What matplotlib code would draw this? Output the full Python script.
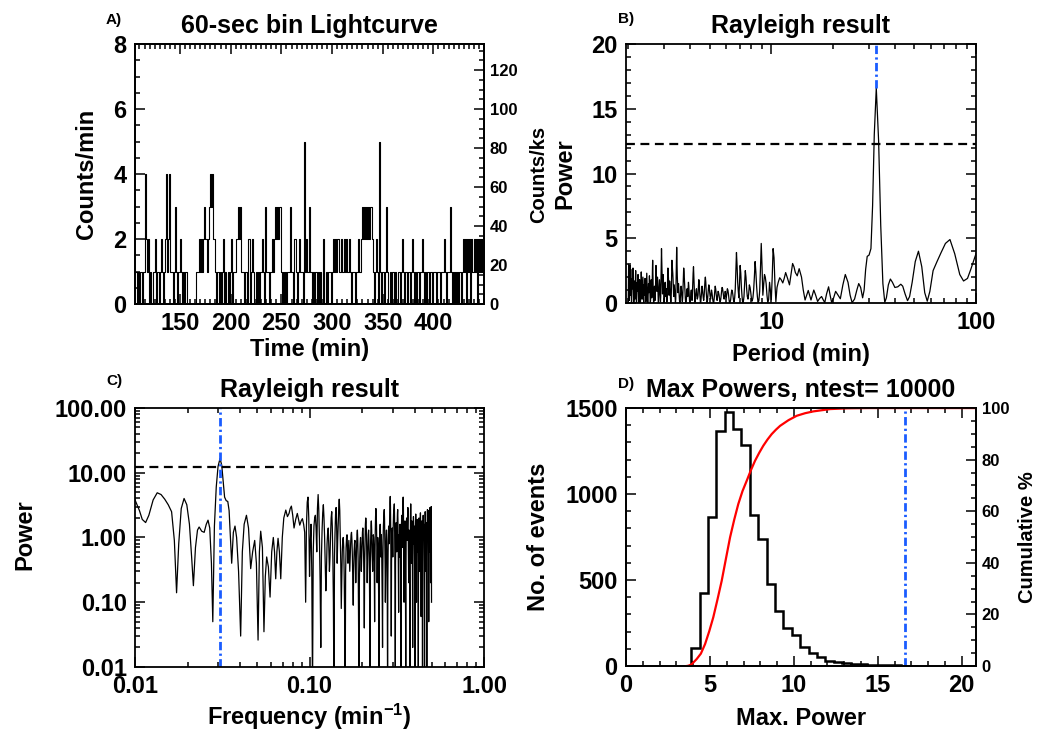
import numpy as np
import matplotlib
matplotlib.use("Agg")
import matplotlib.pyplot as plt
from matplotlib.ticker import MultipleLocator, FixedLocator, LogLocator, NullFormatter

plt.rcParams['font.family'] = ['Liberation Sans', 'DejaVu Sans']
plt.rcParams['font.weight'] = 'bold'
plt.rcParams['axes.labelweight'] = 'bold'
plt.rcParams['axes.titleweight'] = 'bold'
plt.rcParams['mathtext.fontset'] = 'custom'
plt.rcParams['mathtext.rm'] = 'Liberation Sans:bold'
plt.rcParams['mathtext.it'] = 'Liberation Sans:bold'
plt.rcParams['mathtext.bf'] = 'Liberation Sans:bold'
plt.rcParams['axes.linewidth'] = 1.3

# ---- A) 60-sec bin lightcurve (counts per minute, one bin per minute) ----
t_start = 105.6
counts = [
    1, 1, 0, 1, 0, 1, 1, 0, 1, 1,
    4, 2, 1, 2, 0, 1, 0, 0, 1, 1,
    2, 0, 1, 1, 0, 1, 2, 1, 0, 1,
    2, 4, 1, 2, 4, 1, 1, 0, 1, 3,
    1, 0, 1, 1, 2, 1, 0, 1, 0, 1,
    1, 0, 0, 0, 0, 0, 0, 0, 0, 0,
    1, 1, 1, 2, 1, 2, 1, 2, 3, 2,
    2, 1, 2, 3, 4, 3, 4, 2, 2, 1,
    0, 1, 1, 0, 1, 0, 1, 2, 0, 1,
    0, 0, 1, 0, 1, 2, 0, 1, 1, 1,
    2, 2, 3, 2, 3, 1, 1, 1, 0, 1,
    0, 2, 2, 0, 1, 2, 1, 0, 0, 1,
    0, 1, 0, 1, 1, 2, 1, 0, 3, 1,
    1, 1, 0, 1, 1, 2, 1, 2, 3, 2,
    3, 2, 3, 3, 1, 0, 1, 0, 1, 0,
    1, 1, 1, 3, 1, 1, 0, 2, 2, 1,
    0, 1, 2, 1, 1, 1, 0, 5, 1, 2,
    1, 1, 3, 1, 1, 0, 1, 0, 1, 1,
    0, 1, 0, 1, 0, 2, 0, 0, 1, 0,
    1, 1, 1, 0, 1, 2, 1, 2, 1, 2,
    2, 1, 1, 2, 1, 1, 2, 1, 2, 1,
    1, 2, 1, 0, 1, 1, 1, 0, 1, 1,
    2, 1, 1, 2, 3, 2, 3, 2, 3, 2,
    3, 2, 3, 3, 2, 1, 0, 1, 2, 1,
    0, 5, 1, 0, 1, 1, 0, 1, 3, 1,
    0, 0, 1, 0, 1, 1, 0, 1, 0, 1,
    1, 0, 1, 2, 1, 0, 1, 1, 0, 1,
    1, 0, 1, 2, 1, 0, 1, 0, 1, 1,
    0, 1, 1, 2, 1, 0, 1, 0, 1, 1,
    0, 1, 1, 0, 1, 1, 1, 0, 1, 1,
    1, 0, 1, 1, 1, 2, 1, 0, 1, 1,
    1, 3, 1, 0, 1, 0, 1, 0, 1, 0,
    1, 1, 0, 1, 2, 1, 2, 0, 2, 1,
    2, 0, 2, 1, 2, 1, 2, 0, 2, 1,
    2, 1, 2, 1, 2,
]

# ---- B) / C) Rayleigh periodogram ----
freq_lo = [
    0.0100, 0.0106, 0.0110, 0.0115, 0.0120, 0.0127, 0.0134, 0.0141, 0.0148, 0.0155,
    0.0162, 0.0168, 0.0173, 0.0178, 0.0184, 0.0191, 0.0198, 0.0205, 0.0211, 0.0216,
    0.0222, 0.0228, 0.0233, 0.0241, 0.0249, 0.0256, 0.0262, 0.0268, 0.0274, 0.0279,
    0.0285, 0.0292, 0.0299, 0.0307, 0.0314, 0.0320, 0.0326, 0.0333, 0.0340, 0.0346,
    0.0352, 0.0358, 0.0366, 0.0374, 0.0382, 0.0392, 0.0403, 0.0412, 0.0422, 0.0435,
    0.0447, 0.0460, 0.0472, 0.0485, 0.0496, 0.0507, 0.0516, 0.0525, 0.0537, 0.0548,
    0.0558, 0.0568, 0.0581, 0.0594, 0.0607, 0.0620, 0.0630, 0.0640, 0.0650, 0.0660,
    0.0672, 0.0684, 0.0698, 0.0712, 0.0731, 0.0747, 0.0763, 0.0775, 0.0787, 0.0801,
    0.0815, 0.0833, 0.0851, 0.0865, 0.0879, 0.0895, 0.0910, 0.0925, 0.0938, 0.0950,
    0.0960, 0.0970, 0.0980, 0.0990,
]
power_lo = [
    3.8, 2.6, 1.9, 1.7, 2.2, 3.8, 4.9, 4.6, 3.9, 3.2,
    2.5, 0.9, 0.14, 0.8, 2.8, 4.0, 3.2, 1.6, 0.5, 0.18,
    0.7, 1.3, 1.45, 1.25, 1.2, 1.6, 1.85, 1.4, 0.4, 0.05,
    1.5, 6.0, 12.5, 16.6, 13.0, 7.5, 4.2, 3.7, 3.6, 2.6,
    1.0, 0.4, 1.2, 1.5, 1.0, 0.3, 0.03, 0.6, 1.6, 2.2,
    1.4, 0.33, 0.6, 0.9, 0.4, 0.026, 0.6, 1.25, 0.7, 0.035,
    0.25, 0.5, 0.35, 0.12, 0.6, 1.0, 0.6, 0.23, 0.6, 0.97,
    0.6, 0.23, 1.0, 2.0, 2.65, 2.1, 2.35, 2.8, 3.05, 2.2,
    1.4, 1.9, 2.35, 1.9, 1.55, 1.8, 1.95, 1.6, 1.2, 0.1,
    1.5, 3.5, 4.2, 2.0,
]
# high-frequency part: samples at 0.100, 0.102, ... 0.500 min^-1
freq_hi_start, freq_hi_step = 0.100, 0.002
power_hi = [
    0.25, 1.6, 0.004, 1.5, 2.2, 0.6, 4.6, 0.9, 0.02, 1.3,
    3.2, 1.0, 0.15, 0.8, 1.4, 0.3, 1.1, 2.5, 0.5, 0.003,
    1.2, 2.9, 0.4, 1.6, 3.9, 1.1, 0.08, 0.6, 1.0, 0.25,
    0.004, 0.7, 1.1, 0.4, 0.9, 0.3, 0.8, 1.2, 0.5, 0.09,
    0.6, 0.9, 0.2, 0.7, 1.3, 0.4, 0.005, 0.5, 1.0, 0.3,
    0.8, 1.4, 0.6, 0.04, 0.9, 2.0, 1.1, 0.2, 0.7, 1.3,
    0.5, 0.004, 0.9, 1.8, 0.6, 0.3, 1.1, 0.7, 0.05, 1.2,
    2.8, 1.5, 0.2, 1.0, 0.4, 0.006, 0.8, 1.6, 0.5, 1.1,
    0.3, 0.02, 0.9, 1.9, 2.7, 0.9, 0.1, 0.7, 1.3, 0.4,
    0.004, 0.6, 1.5, 0.8, 2.1, 4.3, 1.2, 0.03, 0.9, 1.4,
    0.5, 1.8, 2.6, 3.3, 0.8, 0.005, 1.0, 1.7, 0.6, 1.9,
    2.7, 0.9, 0.07, 1.1, 0.5, 1.6, 0.8, 0.004, 1.3, 2.2,
    0.7, 2.4, 4.2, 1.4, 0.1, 0.9, 1.8, 0.6, 0.008, 1.2,
    2.0, 0.9, 1.6, 2.9, 1.0, 0.2, 1.3, 0.5, 0.003, 1.4,
    3.3, 1.2, 0.4, 1.8, 0.7, 0.02, 1.0, 2.1, 0.8, 1.5,
    0.3, 0.005, 1.1, 2.3, 0.9, 0.1, 1.2, 1.9, 0.6, 1.4,
    0.004, 0.8, 2.0, 1.0, 0.3, 1.5, 2.4, 0.8, 0.06, 1.1,
    1.8, 0.5, 0.003, 1.3, 2.2, 0.9, 1.6, 0.4, 0.008, 1.0,
    2.5, 1.2, 0.3, 1.7, 0.6, 0.004, 1.4, 2.7, 1.1, 2.6,
    0.7, 0.05, 1.2, 1.9, 0.6, 2.9, 1.3, 0.2, 2.2, 3.0,
    0.1,
]
# in-between samples at 0.101, 0.103, ... 0.499 min^-1
power_hi_mid = [
    0.9, 0.3, 0.6, 2.0, 1.4, 2.8, 2.6, 0.2, 0.5, 2.4,
    2.0, 0.4, 0.3, 1.2, 0.7, 0.5, 2.0, 1.5, 0.1, 0.5,
    2.3, 1.5, 0.9, 2.9, 2.6, 0.4, 0.2, 0.9, 0.7, 0.05,
    0.3, 1.0, 0.7, 0.6, 0.5, 0.5, 1.1, 0.9, 0.2, 0.3,
    0.8, 0.5, 0.4, 1.1, 0.9, 0.05, 0.2, 0.8, 0.6, 0.5,
    1.2, 1.1, 0.2, 0.4, 1.6, 1.7, 0.5, 0.4, 1.1, 0.9,
    0.1, 0.4, 1.5, 1.3, 0.4, 0.6, 1.0, 0.3, 0.4, 2.1,
    2.3, 0.7, 0.5, 0.8, 0.1, 0.2, 1.3, 1.1, 0.8, 0.7,
    0.1, 0.3, 1.5, 2.4, 1.9, 0.4, 0.3, 1.1, 0.9, 0.1,
    0.2, 1.1, 1.3, 1.4, 3.4, 2.9, 0.3, 0.4, 1.2, 0.9,
    1.2, 2.3, 3.1, 2.1, 0.2, 0.4, 1.5, 1.2, 1.3, 2.4,
    1.9, 0.3, 0.5, 0.9, 1.1, 1.4, 0.2, 0.5, 1.9, 1.6,
    1.5, 3.5, 3.0, 0.5, 0.4, 1.5, 1.3, 0.1, 0.3, 1.7,
    1.5, 1.2, 2.4, 2.2, 0.5, 0.7, 1.0, 0.1, 0.5, 2.5,
    2.5, 0.7, 1.1, 1.4, 0.2, 0.4, 1.6, 1.6, 1.2, 1.0,
    0.05, 0.4, 1.8, 1.7, 0.4, 0.5, 1.6, 1.4, 1.0, 0.5,
    0.2, 1.5, 1.6, 0.6, 0.8, 2.1, 1.7, 0.3, 0.4, 1.5,
    1.3, 0.1, 0.4, 1.9, 1.7, 1.3, 1.1, 0.1, 0.3, 1.8,
    2.0, 0.7, 0.9, 1.3, 0.2, 0.5, 2.2, 2.0, 2.0, 1.8,
    0.3, 0.4, 1.7, 1.3, 1.6, 2.2, 0.6, 1.1, 2.7, 1.2,
]
peak_freq = 0.0307
peak_power = 16.6
threshold = 12.3

# ---- D) distribution of max powers from simulations ----
ntest = 10000
hist_first_edge, hist_width = 3.88, 0.5
hist_counts = [103, 424, 868, 1366, 1475, 1380, 1283, 876, 740, 474,
               320, 220, 180, 110, 78, 52, 32, 24, 16, 12,
               9, 7, 5, 4, 3, 2, 1]
cum_power = [3.61, 3.71, 3.90, 4.21, 4.46, 4.71, 4.96, 5.20, 5.45, 5.70,
             5.95, 6.20, 6.45, 6.69, 6.94, 7.19, 7.44, 7.69, 7.94, 8.18,
             8.43, 8.68, 8.93, 9.18, 9.68, 10.17, 10.67, 11.16, 12.16, 13.2,
             14.5, 20.85]
cum_pct = [0.0, 0.1, 0.6, 2.7, 4.8, 8.5, 13.5, 18.9, 25.8, 33.0,
           41.5, 49.9, 56.8, 62.8, 67.8, 71.8, 75.9, 79.6, 82.7, 85.4,
           87.8, 89.9, 91.6, 93.1, 95.3, 97.0, 98.0, 98.7, 99.6, 99.9,
           100.0, 100.0]

BLUE = '#1a5cff'
FS = 17
FS_RIGHT = 12


def style(ax, right=True):
    ax.tick_params(which='both', direction='in', top=True, right=right,
                   labelsize=FS, width=1.1, pad=6)
    ax.tick_params(which='major', length=7)
    ax.tick_params(which='minor', length=3.5)


def style_right(ax):
    ax.tick_params(which='both', direction='in', left=False, right=True,
                   labelsize=FS_RIGHT, width=1.1, pad=4)
    ax.tick_params(which='major', length=7)
    ax.tick_params(which='minor', length=3.5)


fig = plt.figure(figsize=(10.5, 7.31), dpi=100)

# A
axA = fig.add_axes([0.1286, 0.5841, 0.3324, 0.3557])
times = t_start + np.arange(len(counts))
axA.step(times, counts, where='post', color='black', lw=0.8)
axA.set_xlim(105.6, 450)
axA.set_ylim(0, 8)
axA.xaxis.set_major_locator(FixedLocator([150, 200, 250, 300, 350, 400]))
axA.xaxis.set_minor_locator(MultipleLocator(5))
axA.yaxis.set_major_locator(MultipleLocator(2))
axA.yaxis.set_minor_locator(MultipleLocator(0.5))
style(axA, right=False)
axA.set_title("60-sec bin Lightcurve", fontsize=18, pad=8)
axA.set_xlabel("Time (min)", fontsize=FS)
axA.xaxis.set_label_coords(0.5, -0.131)
axA.set_ylabel("Counts/min", fontsize=FS, va='center')
axA.yaxis.set_label_coords(-0.138, 0.5)
twA = axA.twinx()
twA.set_ylim(0, 8 * 1000 / 60)
twA.yaxis.set_major_locator(MultipleLocator(20))
twA.yaxis.set_minor_locator(MultipleLocator(5))
style_right(twA)
twA.set_ylabel("Counts/ks", fontsize=14.5, rotation=90, va='center')
twA.yaxis.set_label_coords(1.155, 0.5)

# B
freq_hi = freq_hi_start + freq_hi_step * np.arange(len(power_hi))
freq_mid = freq_hi_start + freq_hi_step / 2 + freq_hi_step * np.arange(len(power_hi_mid))
freq = np.concatenate([freq_lo, freq_hi, freq_mid])
power = np.concatenate([power_lo, power_hi, power_hi_mid])
order = np.argsort(freq)
freq, power = freq[order], power[order]

axB = fig.add_axes([0.5962, 0.5855, 0.3333, 0.3543])
axB.plot(1.0 / freq, power, color='black', lw=0.9)
axB.axhline(threshold, color='black', lw=1.6, dashes=(4, 2.5))
axB.plot([1 / peak_freq, 1 / peak_freq], [peak_power, 20], color=BLUE, lw=2,
         dashes=(3, 1.2, 0.8, 1.2))
axB.set_xscale('log')
axB.set_xlim(1.95, 100)
axB.set_ylim(0, 20)
axB.xaxis.set_major_locator(FixedLocator([10, 100]))
axB.xaxis.set_major_formatter(plt.FuncFormatter(lambda v, p: "%d" % v))
axB.xaxis.set_minor_locator(LogLocator(base=10, subs=np.arange(2, 10)))
axB.xaxis.set_minor_formatter(NullFormatter())
axB.yaxis.set_major_locator(MultipleLocator(5))
axB.yaxis.set_minor_locator(MultipleLocator(1))
style(axB)
axB.set_title("Rayleigh result", fontsize=18, pad=8)
axB.set_xlabel("Period (min)", fontsize=FS)
axB.xaxis.set_label_coords(0.5, -0.154)
axB.set_ylabel("Power", fontsize=FS, va='center')
axB.yaxis.set_label_coords(-0.174, 0.5)

# C
axC = fig.add_axes([0.1286, 0.0876, 0.3324, 0.3543])
axC.plot(freq, power, color='black', lw=0.9)
axC.axhline(threshold, color='black', lw=1.6, dashes=(4, 2.5))
axC.axvline(peak_freq, color=BLUE, lw=2, dashes=(3, 1.2, 0.8, 1.2))
axC.set_xscale('log')
axC.set_yscale('log')
axC.set_xlim(0.01, 1.0)
axC.set_ylim(0.01, 100)
axC.set_xticks([0.01, 0.1, 1.0], ["0.01", "0.10", "1.00"])
axC.set_yticks([0.01, 0.1, 1, 10, 100], ["0.01", "0.10", "1.00", "10.00", "100.00"])
for axis in (axC.xaxis, axC.yaxis):
    axis.set_minor_locator(LogLocator(base=10, subs=np.arange(2, 10)))
    axis.set_minor_formatter(NullFormatter())
style(axC)
axC.set_title("Rayleigh result", fontsize=18, pad=8)
axC.set_xlabel(r"Frequency (min$^{-1}$)", fontsize=FS)
axC.xaxis.set_label_coords(0.5, -0.135)
axC.set_ylabel("Power", fontsize=FS, va='center')
axC.yaxis.set_label_coords(-0.315, 0.51)

# D
axD = fig.add_axes([0.5962, 0.0889, 0.3333, 0.3529])
edges = hist_first_edge + hist_width * np.arange(len(hist_counts) + 1)
axD.stairs(hist_counts, edges, color='black', lw=1.8, baseline=0)
axD.axvline(peak_power, color=BLUE, lw=2, dashes=(3, 1.2, 0.8, 1.2))
axD.set_xlim(0, 20.85)
axD.set_ylim(0, 1500)
axD.xaxis.set_major_locator(MultipleLocator(5))
axD.xaxis.set_minor_locator(MultipleLocator(1))
axD.yaxis.set_major_locator(MultipleLocator(500))
axD.yaxis.set_minor_locator(MultipleLocator(100))
style(axD, right=False)
axD.set_title("Max Powers, ntest= %d" % ntest, fontsize=18, pad=8)
axD.set_xlabel("Max. Power", fontsize=FS)
axD.xaxis.set_label_coords(0.5, -0.159)
axD.set_ylabel("No. of events", fontsize=FS, va='center')
axD.yaxis.set_label_coords(-0.251, 0.5)
twD = axD.twinx()
twD.plot(cum_power, cum_pct, color='red', lw=1.6)
twD.set_ylim(0, 100)
twD.yaxis.set_major_locator(MultipleLocator(20))
twD.yaxis.set_minor_locator(MultipleLocator(5))
style_right(twD)
twD.set_ylabel("Cumulative %", fontsize=14.5, rotation=90, va='center')
twD.yaxis.set_label_coords(1.146, 0.5)

# panel letters
for label, x, y in [("A)", 106, 20), ("B)", 618, 19), ("C)", 106, 381), ("D)", 618, 384)]:
    fig.text(x / 1050, 1 - y / 731, label, fontsize=11, ha='left', va='center')

fig.savefig("out.png", dpi=100)
